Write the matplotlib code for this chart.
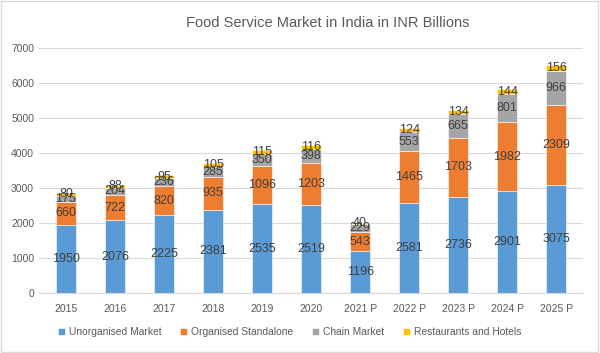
import numpy as np
import matplotlib.pyplot as plt
from matplotlib.patches import Rectangle

plt.rcParams['font.family'] = ['Liberation Sans', 'DejaVu Sans']

years = ['2015', '2016', '2017', '2018', '2019', '2020',
         '2021 P', '2022 P', '2023 P', '2024 P', '2025 P']
unorganised = [1950, 2076, 2225, 2381, 2535, 2519, 1196, 2581, 2736, 2901, 3075]
standalone = [660, 722, 820, 935, 1096, 1203, 543, 1465, 1703, 1982, 2309]
chain = [175, 204, 236, 285, 350, 398, 229, 553, 665, 801, 966]
hotels = [80, 88, 95, 105, 115, 116, 40, 124, 134, 144, 156]

series = [
    ('Unorganised Market', unorganised, '#5B9BD5'),
    ('Organised Standalone', standalone, '#ED7D31'),
    ('Chain Market', chain, '#A5A5A5'),
    ('Restaurants and Hotels', hotels, '#FFC000'),
]

fig = plt.figure(figsize=(6, 3.53), dpi=100)
ax = fig.add_axes([0.065, 0.17, 0.907, 0.694])

x = np.arange(len(years))
bottom = np.zeros(len(years))
for name, vals, color in series:
    vals = np.array(vals, dtype=float)
    ax.bar(x, vals, 0.4, bottom=bottom, color=color, label=name,
           edgecolor='white', linewidth=0.4, zorder=3)
    for xi, b, v in zip(x, bottom, vals):
        ax.text(xi, b + v / 2, f'{int(v)}', ha='center', va='center',
                fontsize=9, color='#404040', zorder=4)
    bottom += vals

ax.set_xlim(-0.55, len(years) - 0.45)
ax.set_ylim(0, 7000)
ax.set_yticks(range(0, 7001, 1000))
ax.set_xticks(x)
ax.set_xticklabels(years)
ax.tick_params(axis='both', length=0, labelsize=7.5, colors='#595959')
ax.tick_params(axis='x', pad=8)
ax.grid(axis='y', color='#D9D9D9', linewidth=0.8, zorder=0)
for s in ['top', 'right', 'left']:
    ax.spines[s].set_visible(False)
ax.spines['bottom'].set_color('#D9D9D9')

fig.text(0.547, 0.935, 'Food Service Market in India in INR Billions',
         ha='center', va='center', fontsize=10.5, color='#595959')

handles, labels = ax.get_legend_handles_labels()
fig.legend(handles, labels, loc='center', bbox_to_anchor=(0.483, 0.06), ncol=4,
           frameon=False, fontsize=7.4, handlelength=0.7, handleheight=0.7,
           handletextpad=0.4, columnspacing=1.8, labelcolor='#595959')

fig.patches.append(Rectangle((0.002, 0.003), 0.995, 0.993, transform=fig.transFigure,
                             fill=False, edgecolor='#D9D9D9', linewidth=1))

fig.savefig('out.png', dpi=100)
